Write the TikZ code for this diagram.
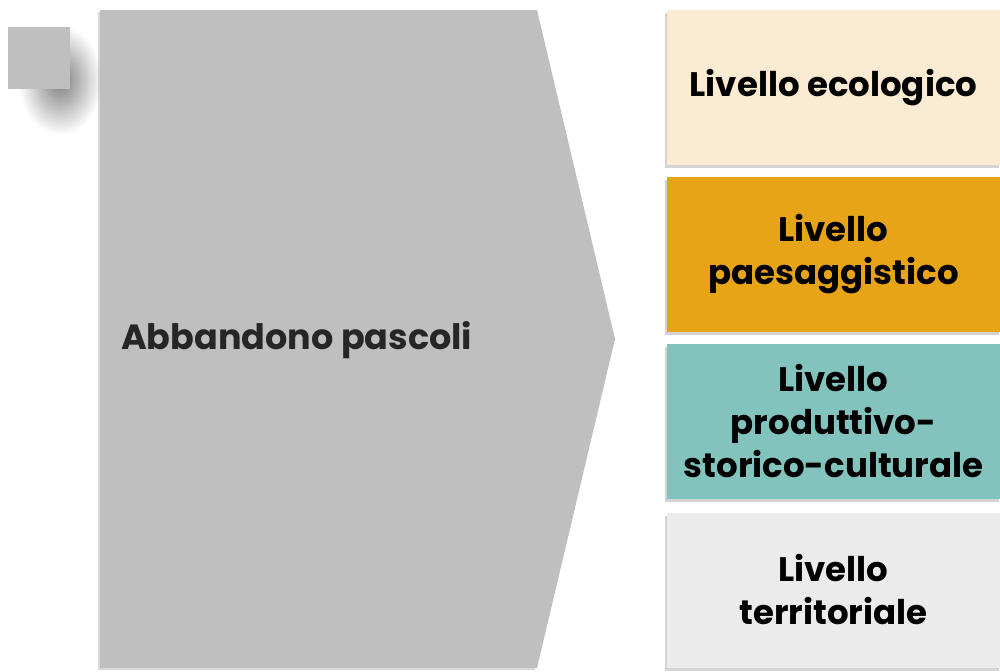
\documentclass[tikz,border=0pt]{standalone}
\usepackage{fontspec}
\setmainfont{Poppins}
\usepackage{tikz}
\usetikzlibrary{shadows}

\definecolor{arrowgray}{HTML}{BFBFBF}
\definecolor{levcream}{HTML}{FAEBD2}
\definecolor{levorange}{HTML}{E8A417}
\definecolor{levteal}{HTML}{82C4BD}
\definecolor{levgray}{HTML}{EBEBEB}
\definecolor{txtdark}{HTML}{262626}

\pgfdeclareradialshading{softshadow}{\pgfpoint{0bp}{0bp}}{color(0bp)=(black!50); color(8bp)=(black!35); color(25bp)=(white); color(50bp)=(white)}

\tikzset{
  level/.style={minimum width=167pt,minimum height=77.5pt,inner sep=0pt,align=center,
    font=\fontsize{17}{21.5}\selectfont\bfseries,
    drop shadow={shadow xshift=-1pt,shadow yshift=-1.5pt,opacity=0.35}},
}

\begin{document}
\begin{tikzpicture}[x=0.5pt,y=0.5pt]
  \useasboundingbox (0,0) rectangle (1000,-671);

  % small square with soft shadow
  \shade[shading=softshadow] (60,-80) ellipse (42 and 55);
  \node[fill=arrowgray,minimum size=31pt,inner sep=0pt] (mark) at (39,-58) {};

  % big arrow
  \fill[black,opacity=0.15] (98,-12) -- (535,-12) -- (613,-341) -- (535,-670) -- (98,-670) -- cycle;
  \fill[arrowgray] (100,-10) -- (537,-10) -- (615,-339) -- (537,-668) -- (100,-668) -- cycle;
  \node[anchor=base west,text=txtdark,font=\fontsize{17.5}{21.5}\selectfont\bfseries]
    (cause) at (114,-349) {Abbandono pascoli};

  % levels
  \node[level,fill=levcream] (lvEco) at (833.5,-87.5) {Livello ecologico};
  \node[level,fill=levorange] (lvPaes) at (833.5,-254) {Livello\\paesaggistico};
  \node[level,fill=levteal] (lvProd) at (833.5,-421) {Livello\\produttivo-\\storico-culturale};
  \node[level,fill=levgray] (lvTerr) at (833.5,-590) {Livello\\territoriale};
\end{tikzpicture}
\end{document}
